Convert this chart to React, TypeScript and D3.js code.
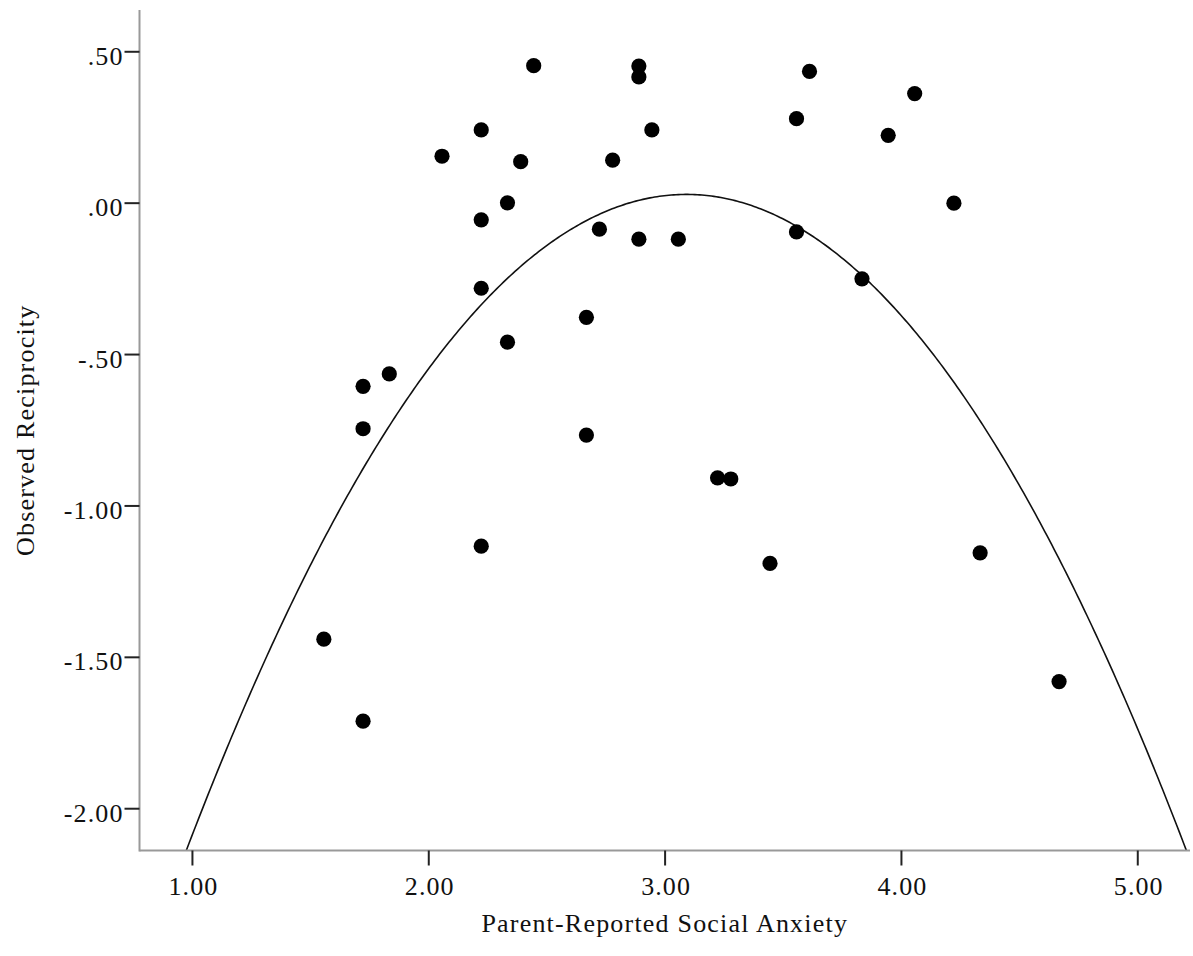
import React from 'react';
import * as d3 from 'd3';

const anxiety = [
  2.444, 2.889, 2.889, 2.222, 2.944, 2.056, 2.389, 2.778, 2.333, 2.222,
  2.722, 2.889, 3.056, 2.222, 2.667, 3.611, 4.056, 3.556, 3.944, 4.222,
  3.556, 3.833, 1.833, 1.722, 1.722, 1.556, 1.722, 2.333, 2.667, 3.222,
  3.278, 2.222, 3.444, 4.333, 4.667,
];
const reciprocity = [
  0.454, 0.453, 0.417, 0.242, 0.242, 0.155, 0.137, 0.142, 0.001, -0.055,
  -0.086, -0.119, -0.119, -0.281, -0.377, 0.435, 0.362, 0.279, 0.224, 0.0,
  -0.095, -0.25, -0.564, -0.605, -0.745, -1.44, -1.711, -0.459, -0.766, -0.907,
  -0.911, -1.133, -1.19, -1.155, -1.58,
];

// quadratic fit: b0 + b1*x + b2*x^2
const quadCoef = [-4.592, 2.991, -0.484];

const xTicks = [1, 2, 3, 4, 5];
const yTicks = [0.5, 0, -0.5, -1, -1.5, -2];
const xDomain = [0.776, 5.221];
const yDomain = [-2.138, 0.638];

const W = 1193;
const H = 956;
const left = 139.5;
const right = 1190;
const top = 10;
const bottom = 850.5;

const font = '"Liberation Serif", "Times New Roman", serif';

// SPSS style labels: ".50", "-1.00"
const fmt = (v: number) =>
  v.toFixed(2).replace(/^(-?)0\./, '$1.').replace('-.00', '.00');

export default function App() {
  const x = d3.scaleLinear().domain(xDomain).range([left, right]);
  const y = d3.scaleLinear().domain(yDomain).range([bottom, top]);

  const fit = (v: number) => quadCoef[0] + quadCoef[1] * v + quadCoef[2] * v * v;
  const grid = d3.range(xDomain[0], xDomain[1] + 0.001, 0.01);
  const line = d3
    .line<number>()
    .x(d => x(d))
    .y(d => y(fit(d)));

  return (
    <svg width={W} height={H} style={{ position: 'absolute', left: 0, top: 0, background: '#fff' }}>
      <defs>
        <clipPath id="plot">
          <rect x={left} y={top} width={right - left} height={bottom - top} />
        </clipPath>
      </defs>

      <g clipPath="url(#plot)">
        <path d={line(grid) || ''} fill="none" stroke="#111" strokeWidth={1.6} />
      </g>

      {anxiety.map((a, i) => (
        <circle key={i} cx={x(a)} cy={y(reciprocity[i])} r={7.6} fill="#000" />
      ))}

      {/* axes */}
      <line x1={left} x2={left} y1={top} y2={bottom + 1} stroke="#999" strokeWidth={2} />
      <line x1={left} x2={right} y1={bottom} y2={bottom} stroke="#999" strokeWidth={2} />

      {yTicks.map(t => (
        <g key={t}>
          <line x1={left - 15} x2={left} y1={y(t)} y2={y(t)} stroke="#222" strokeWidth={2} />
          <text
            x={left - 16}
            y={y(t) + 13}
            textAnchor="end"
            fontFamily={font}
            fontSize={26}
            letterSpacing={1.1}
            fill="#111"
          >
            {fmt(t)}
          </text>
        </g>
      ))}

      {xTicks.map(t => (
        <g key={t}>
          <line x1={x(t)} x2={x(t)} y1={bottom} y2={bottom + 15} stroke="#222" strokeWidth={2} />
          <text
            x={x(t) + 1}
            y={bottom + 44}
            textAnchor="middle"
            fontFamily={font}
            fontSize={26}
            letterSpacing={1.1}
            fill="#111"
          >
            {fmt(t)}
          </text>
        </g>
      ))}

      <text
        x={(left + right) / 2}
        y={931.5}
        textAnchor="middle"
        fontFamily={font}
        fontSize={26}
        letterSpacing={1.2}
        fill="#111"
      >
        Parent-Reported Social Anxiety
      </text>
      <text
        transform={`translate(33.5,${(top + bottom) / 2}) rotate(-90)`}
        textAnchor="middle"
        fontFamily={font}
        fontSize={26}
        letterSpacing={1.2}
        fill="#111"
      >
        Observed Reciprocity
      </text>
    </svg>
  );
}
